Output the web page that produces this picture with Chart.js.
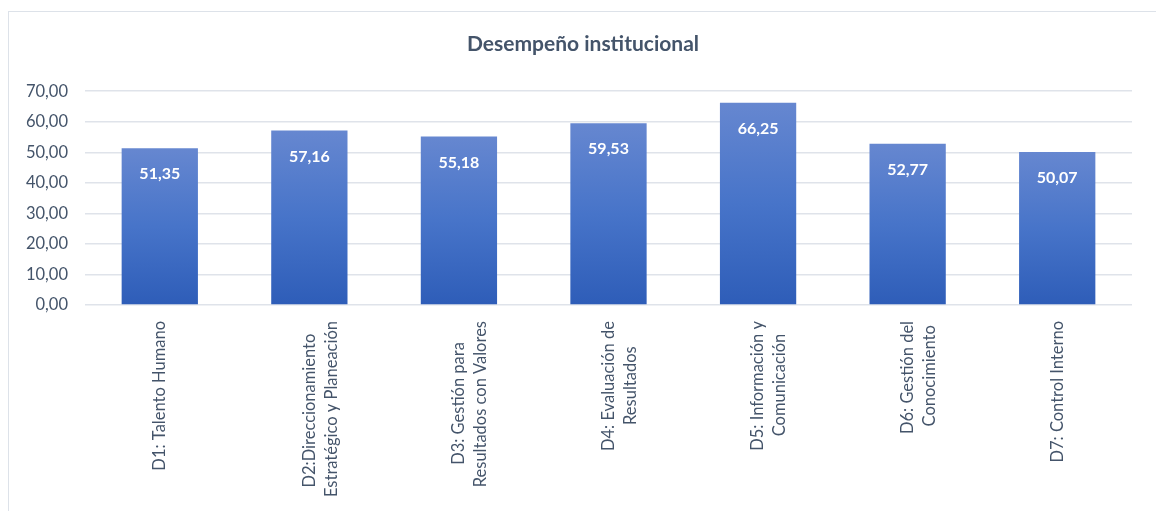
<!DOCTYPE html>
<html>
<head>
<meta charset="utf-8">
<script src="https://cdn.jsdelivr.net/npm/chart.js@4.4.0/dist/chart.umd.min.js"></script>
<style>
  body { margin: 0; background: #fff; overflow: hidden; }
  #frame { position: absolute; left: 8px; top: 11px; width: 1200px; height: 560px; border: 1.5px solid #dde2e9; }
  #chart { position: absolute; left: 0; top: 0; }
</style>
</head>
<body>
<div id="frame"></div>
<canvas id="chart" width="1156" height="511"></canvas>
<script>
const categories = [
    ['D1: Talento Humano'],
    ['D2:Direccionamiento', 'Estratégico y Planeación'],
    ['D3: Gestión para', 'Resultados con Valores'],
    ['D4: Evaluación de', 'Resultados'],
    ['D5: Información y', 'Comunicación'],
    ['D6: Gestión del', 'Conocimiento'],
    ['D7: Control Interno']
];
const scores = [51.35, 57.16, 55.18, 59.53, 66.25, 52.77, 50.07];
const yTicks = [0, 10, 20, 30, 40, 50, 60, 70];

const textColor = '#44546a';
const fontName = 'Lato, "Open Sans", sans-serif';
const xFontSize = 16.5;

function fmt(v, digits) {
    return v.toFixed(digits).replace('.', ',');
}

// Chart.js right-aligns rotated lines; pad shorter lines (no-break spaces) so they sit centred like in Excel
const measureCtx = document.createElement('canvas').getContext('2d');
function centredLines(lines) {
    if (!Array.isArray(lines)) return lines;
    measureCtx.font = xFontSize + 'px ' + fontName;
    const widths = lines.map(l => measureCtx.measureText(l).width);
    const maxW = Math.max(...widths);
    const spaceW = measureCtx.measureText('\u00a0').width;
    return lines.map((l, i) => l + '\u00a0'.repeat(Math.round((maxW - widths[i]) / 2 / spaceW)));
}

// gradient per bar, lighter on top
function barFill(context) {
    const chart = context.chart;
    const y = chart.scales.y;
    if (!y || context.raw === undefined) return '#4472c4';
    const top = y.getPixelForValue(context.raw);
    const bottom = y.getPixelForValue(0);
    if (!isFinite(top) || !isFinite(bottom) || top === bottom) return '#4472c4';
    const g = chart.ctx.createLinearGradient(0, top, 0, bottom);
    g.addColorStop(0, '#6687d0');
    g.addColorStop(0.5, '#4774c9');
    g.addColorStop(1, '#2e5db8');
    return g;
}

const valueLabels = {
    id: 'valueLabels',
    afterDatasetsDraw(chart) {
        const ctx = chart.ctx;
        const meta = chart.getDatasetMeta(0);
        ctx.save();
        ctx.fillStyle = '#ffffff';
        ctx.font = 'bold 16px ' + fontName;
        ctx.textAlign = 'center';
        ctx.textBaseline = 'middle';
        meta.data.forEach((bar, i) => {
            ctx.fillText(fmt(scores[i], 2), bar.x, bar.y + 26);
        });
        ctx.restore();
    }
};

// left padding is only there to centre the title like the original;
// let the y scale reach the canvas edge so its labels are not clipped
const widenYScale = {
    id: 'widenYScale',
    afterLayout(chart) {
        const y = chart.scales.y;
        y.width += y.left;
        y.left = 0;
    }
};

new Chart(document.getElementById('chart'), {
    type: 'bar',
    data: {
        labels: categories,
        datasets: [{
            data: scores,
            backgroundColor: barFill,
            borderWidth: 0,
            categoryPercentage: 1,
            barPercentage: 0.51
        }]
    },
    options: {
        responsive: false,
        animation: false,
        layout: { padding: { left: 34, right: 24, top: 0, bottom: 0 } },
        plugins: {
            legend: { display: false },
            tooltip: { enabled: false },
            title: {
                display: true,
                text: 'Desempeño institucional',
                color: textColor,
                font: { family: fontName, size: 21, weight: 'bold' },
                padding: { top: 32, bottom: 34 }
            }
        },
        scales: {
            x: {
                grid: { display: false },
                border: { display: false },
                ticks: {
                    color: textColor,
                    font: { family: fontName, size: xFontSize, lineHeight: 1.33 },
                    minRotation: 90,
                    maxRotation: 90,
                    autoSkip: false,
                    padding: 8,
                    callback(value) { return centredLines(categories[value]); }
                },
                afterFit(scale) { scale.height = 206; }
            },
            y: {
                min: 0,
                max: 70,
                afterBuildTicks(scale) { scale.ticks = yTicks.map(v => ({ value: v })); },
                grid: { color: '#dfe3ea', lineWidth: 1.5, drawTicks: false },
                border: { display: false },
                ticks: {
                    color: textColor,
                    font: { family: fontName, size: 16.5 },
                    padding: 17,
                    callback: v => fmt(v, 2)
                },
                afterFit(scale) { scale.width = 51; }
            }
        }
    },
    plugins: [valueLabels, widenYScale]
});
</script>
</body>
</html>
